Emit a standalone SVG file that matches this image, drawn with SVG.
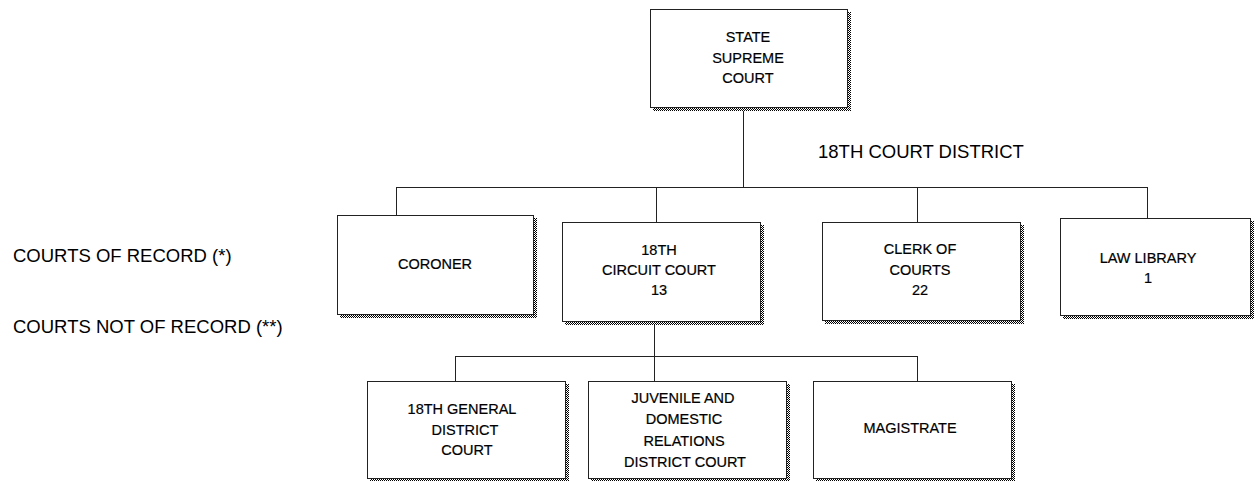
<svg xmlns="http://www.w3.org/2000/svg" width="1257" height="481" viewBox="0 0 1257 481">
<defs>
<pattern id="dots" width="2" height="2" patternUnits="userSpaceOnUse">
<rect width="2" height="2" fill="#ffffff"/>
<rect width="1" height="1" fill="#000000"/>
<rect x="1" y="1" width="1" height="1" fill="#000000"/>
</pattern>
</defs>
<style>
.box{fill:#ffffff;stroke:#222222;stroke-width:1}
.sh{fill:url(#dots)}
.t{font-family:"Liberation Sans",Arial,sans-serif;font-size:14.5px;fill:#000;text-anchor:middle;stroke:#000;stroke-width:0.2}
.lbl{font-family:"Liberation Sans",Arial,sans-serif;font-size:18.5px;fill:#000}
.c{stroke:#222222;stroke-width:1;fill:none}
</style>
<rect width="1257" height="481" fill="#ffffff"/>
<g id="connectors">
<path class="c" d="M743.5 108V187.5M396 187.5H1148M396.5 187.5V215M656.5 187.5V222M917.5 187.5V222M1147.5 187.5V218M654.5 321V381M455 356.5H918M455.5 356.5V381M917.5 356.5V381"/>
</g>
<g id="state-supreme-court">
<rect class="sh" x="653" y="12" width="198" height="99"/>
<rect class="box" x="650.5" y="9.5" width="197" height="98"/>
<text class="t" x="748" y="42">STATE</text>
<text class="t" x="748" y="63">SUPREME</text>
<text class="t" x="748" y="83">COURT</text>
</g>
<g id="coroner">
<rect class="sh" x="340" y="218" width="197" height="100"/>
<rect class="box" x="337.5" y="215.5" width="196" height="99"/>
<text class="t" x="435" y="269">CORONER</text>
</g>
<g id="circuit-court">
<rect class="sh" x="565" y="225" width="199" height="100"/>
<rect class="box" x="562.5" y="222.5" width="198" height="99"/>
<text class="t" x="659" y="255">18TH</text>
<text class="t" x="659" y="275">CIRCUIT COURT</text>
<text class="t" x="659" y="295">13</text>
</g>
<g id="clerk-of-courts">
<rect class="sh" x="825" y="225" width="199" height="99"/>
<rect class="box" x="822.5" y="222.5" width="198" height="98"/>
<text class="t" x="920" y="254">CLERK OF</text>
<text class="t" x="920" y="275">COURTS</text>
<text class="t" x="920" y="295">22</text>
</g>
<g id="law-library">
<rect class="sh" x="1063" y="221" width="191" height="98"/>
<rect class="box" x="1060.5" y="218.5" width="190" height="97"/>
<text class="t" x="1148" y="263">LAW LIBRARY</text>
<text class="t" x="1148" y="283">1</text>
</g>
<g id="general-district-court">
<rect class="sh" x="370" y="384" width="199" height="99"/>
<rect class="box" x="367.5" y="381.5" width="198" height="97"/>
<text class="t" x="462" y="414">18TH GENERAL</text>
<text class="t" x="465" y="435">DISTRICT</text>
<text class="t" x="467" y="455">COURT</text>
</g>
<g id="juvenile-court">
<rect class="sh" x="591" y="384" width="199" height="99"/>
<rect class="box" x="588.5" y="381.5" width="198" height="97"/>
<text class="t" x="683" y="403">JUVENILE AND</text>
<text class="t" x="684" y="424">DOMESTIC</text>
<text class="t" x="684" y="446">RELATIONS</text>
<text class="t" x="685" y="467">DISTRICT COURT</text>
</g>
<g id="magistrate">
<rect class="sh" x="816" y="384" width="199" height="99"/>
<rect class="box" x="813.5" y="381.5" width="198" height="97"/>
<text class="t" x="910" y="433">MAGISTRATE</text>
</g>
<g id="labels">
<text class="lbl" x="818" y="158">18TH COURT DISTRICT</text>
<text class="lbl" x="13" y="262">COURTS OF RECORD (*)</text>
<text class="lbl" x="13" y="333">COURTS NOT OF RECORD (**)</text>
</g>
</svg>
